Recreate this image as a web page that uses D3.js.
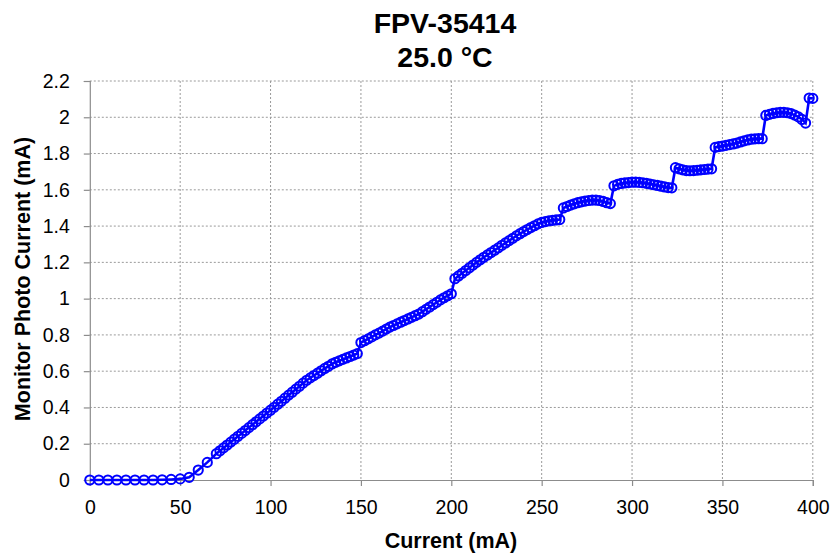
<!DOCTYPE html>
<html>
<head>
<meta charset="utf-8">
<script src="https://cdn.jsdelivr.net/npm/d3@7"></script>
<style>
  body { margin: 0; background: #fff; }
  text { font-family: "Liberation Sans", Arial, sans-serif; fill: #000; }
</style>
</head>
<body>
<div id="chart"></div>
<script>
var svg_width = 836;
var svg_height = 556;

// drive current (mA)
var current = [
    0, 5, 10, 15, 20, 25, 30, 35, 40, 45, 50, 55, 60, 65, 70,
    72, 74, 76, 78, 80, 82, 84, 86, 88, 90, 92, 94, 96, 98, 100,
    102, 104, 106, 108, 110, 112, 114, 116, 118, 120,
    122, 124, 126, 128, 130, 132, 134, 136, 138, 140, 142, 144, 146, 148,
    150, 152, 154, 156, 158, 160, 162, 164, 166, 168, 170, 172, 174, 176, 178, 180,
    182, 184, 186, 188, 190, 192, 194, 196, 198, 200,
    202, 204, 206, 208, 210, 212, 214, 216, 218, 220, 222, 224, 226, 228, 230,
    232, 234, 236, 238, 240, 242, 244, 246, 248, 250, 252, 254, 256, 258, 260,
    262, 264, 266, 268, 270, 272, 274, 276, 278, 280, 282, 284, 286, 288,
    290, 292, 294, 296, 298, 300, 302, 304, 306, 308, 310, 312, 314, 316, 318, 320, 322,
    324, 326, 328, 330, 332, 334, 336, 338, 340, 342, 344,
    346, 348, 350, 352, 354, 356, 358, 360, 362, 364, 366, 368, 370, 372,
    374, 376, 378, 380, 382, 384, 386, 388, 390, 392, 394, 396,
    398, 400
];

// monitor photo current (mA)
var photo = [
    0.000, 0.000, 0.000, 0.000, 0.000, 0.000, 0.000, 0.000, 0.001, 0.003, 0.006, 0.015, 0.055, 0.097, 0.145,
    0.161, 0.177, 0.193, 0.209, 0.225, 0.241, 0.257, 0.273, 0.289, 0.305, 0.321, 0.337, 0.353, 0.369, 0.385,
    0.401, 0.418, 0.434, 0.451, 0.468, 0.484, 0.501, 0.517, 0.534, 0.550,
    0.563, 0.576, 0.589, 0.602, 0.615, 0.627, 0.640, 0.649, 0.657, 0.665, 0.673, 0.681, 0.689, 0.697,
    0.758, 0.768, 0.778, 0.789, 0.800, 0.810, 0.821, 0.832, 0.843, 0.852, 0.861, 0.870, 0.879, 0.888, 0.897, 0.906,
    0.915, 0.928, 0.941, 0.954, 0.967, 0.980, 0.993, 1.005, 1.016, 1.027,
    1.110, 1.125, 1.140, 1.155, 1.170, 1.185, 1.200, 1.214, 1.228, 1.241, 1.254, 1.267, 1.280, 1.294, 1.307,
    1.320, 1.333, 1.346, 1.358, 1.370, 1.381, 1.392, 1.402, 1.412, 1.420, 1.425, 1.429, 1.432, 1.434, 1.436,
    1.500, 1.508, 1.516, 1.523, 1.529, 1.534, 1.538, 1.541, 1.543, 1.543, 1.541, 1.536, 1.529, 1.524,
    1.622, 1.630, 1.635, 1.638, 1.640, 1.642, 1.642, 1.641, 1.639, 1.636, 1.632, 1.628, 1.624, 1.620, 1.616, 1.612, 1.611,
    1.722, 1.716, 1.710, 1.706, 1.705, 1.706, 1.708, 1.710, 1.712, 1.714, 1.716,
    1.834, 1.838, 1.841, 1.845, 1.849, 1.853, 1.858, 1.864, 1.870, 1.875, 1.879, 1.881, 1.882, 1.882,
    2.010, 2.016, 2.021, 2.025, 2.027, 2.027, 2.025, 2.020, 2.012, 2.002, 1.988, 1.968,
    2.106, 2.104
];

var xTicks = [0, 50, 100, 150, 200, 250, 300, 350, 400];
var yTicks = [0, 0.2, 0.4, 0.6, 0.8, 1, 1.2, 1.4, 1.6, 1.8, 2, 2.2];
var titleLines = ["FPV-35414", "25.0 °C"];

var data = current.map(function(c, i) { return { x: c, y: photo[i] }; });

var plot = { left: 89.8, right: 812.8, top: 81, bottom: 480 };

var svg = d3.select("#chart").append("svg")
    .attr("width", svg_width)
    .attr("height", svg_height);

var x = d3.scaleLinear().domain([0, 400]).range([plot.left, plot.right]);
var y = d3.scaleLinear().domain([0, 2.2]).range([plot.bottom, plot.top]);

// dotted grid
svg.append("g")
    .selectAll("line.gx")
    .data(xTicks.slice(1))
    .enter().append("line")
    .attr("x1", function(d) { return x(d); })
    .attr("x2", function(d) { return x(d); })
    .attr("y1", plot.top)
    .attr("y2", plot.bottom)
    .attr("stroke", "#9a9a9a")
    .attr("stroke-width", 1)
    .attr("stroke-dasharray", "2,2");

svg.append("g")
    .selectAll("line.gy")
    .data(yTicks.slice(1))
    .enter().append("line")
    .attr("x1", plot.left)
    .attr("x2", plot.right)
    .attr("y1", function(d) { return y(d); })
    .attr("y2", function(d) { return y(d); })
    .attr("stroke", "#9a9a9a")
    .attr("stroke-width", 1)
    .attr("stroke-dasharray", "2,2");

// axes
var xAxis = svg.append("g")
    .attr("transform", "translate(0," + plot.bottom + ")")
    .call(d3.axisBottom(x).tickValues(xTicks).tickSize(6).tickPadding(14).tickFormat(d3.format("d")));

var yAxis = svg.append("g")
    .attr("transform", "translate(" + plot.left + ",0)")
    .call(d3.axisLeft(y).tickValues(yTicks).tickSize(6).tickPadding(14)
        .tickFormat(function(d) { return String(+d.toFixed(1)); }));

[xAxis, yAxis].forEach(function(a) {
    a.select(".domain").attr("stroke", "#8c8c8c").attr("stroke-width", 1.2);
    a.selectAll(".tick line").attr("stroke", "#8c8c8c").attr("stroke-width", 1.2);
    a.selectAll(".tick text")
        .style("font-family", "'Liberation Sans', Arial, sans-serif")
        .style("font-size", "19.5px")
        .attr("fill", "#000");
});

// series
var line = d3.line()
    .x(function(d) { return x(d.x); })
    .y(function(d) { return y(d.y); });

svg.append("path")
    .datum(data)
    .attr("fill", "none")
    .attr("stroke", "#0000ff")
    .attr("stroke-width", 2.6)
    .attr("d", line);

svg.append("g")
    .selectAll("circle")
    .data(data)
    .enter().append("circle")
    .attr("cx", function(d) { return x(d.x); })
    .attr("cy", function(d) { return y(d.y); })
    .attr("r", 4.6)
    .attr("fill", "none")
    .attr("stroke", "#0000ff")
    .attr("stroke-width", 2);

// titles
svg.append("g")
    .selectAll("text")
    .data(titleLines)
    .enter().append("text")
    .text(function(d) { return d; })
    .attr("x", 445)
    .attr("y", function(d, i) { return 33 + i * 33.5; })
    .attr("text-anchor", "middle")
    .style("font-size", "28.5px")
    .style("font-weight", "bold");

svg.append("text")
    .text("Current (mA)")
    .attr("x", 451)
    .attr("y", 548)
    .attr("text-anchor", "middle")
    .style("font-size", "21.5px")
    .style("font-weight", "bold");

svg.append("text")
    .text("Monitor Photo Current (mA)")
    .attr("transform", "translate(30,279) rotate(-90)")
    .attr("text-anchor", "middle")
    .style("font-size", "21.5px")
    .style("font-weight", "bold");
</script>
</body>
</html>
